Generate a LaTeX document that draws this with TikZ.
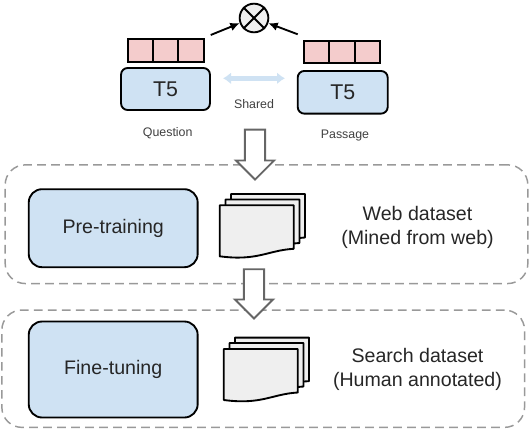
\documentclass[tikz,border=0pt]{standalone}
\usepackage{fontspec}
\setmainfont{Liberation Sans}
\usepackage{xcolor}
\usetikzlibrary{arrows.meta,positioning,shapes.arrows}
\definecolor{boxblue}{HTML}{CFE2F3}
\definecolor{cellred}{HTML}{F4CCCC}
\definecolor{pagegray}{HTML}{EFEFEF}
\tikzset{
  enc/.style={draw, rounded corners=5pt, fill=boxblue, line width=1.4pt, font=\fontsize{16}{18}\selectfont, text=black!85},
  stage/.style={draw, rounded corners=10pt, fill=boxblue, line width=1.4pt, minimum width=126.7pt, font=\fontsize{14.7}{17}\selectfont, text=black!85},
  cell/.style={draw, fill=cellred, line width=1.4pt, minimum width=19pt, minimum height=17pt, inner sep=0pt, outer sep=0pt},
  lbl/.style={font=\fontsize{9.3}{11}\selectfont, text=black!75},
  data/.style={align=center, font=\fontsize{14.7}{18}\selectfont, text=black!85},
  group/.style={draw=black!40, rounded corners=15pt, dash pattern=on 6.5pt off 4pt, line width=1.1pt, minimum width=392pt},
  flow/.style={single arrow, draw=black!60, fill=white, line width=1.4pt, shape border rotate=270, inner sep=6.9pt, minimum width=27pt, single arrow head extend=6.7pt, single arrow head indent=0pt},
  arr/.style={-{Latex[length=7pt,width=6.5pt]}, line width=1.4pt},
  docpage/.pic={
    \draw[fill=pagegray, line width=1.4pt, line join=round] (0,0) -- (74,0) -- (74,43.5) .. controls (48,45) and (38,56) .. (0,51) -- cycle;
  },
}
\begin{document}
\begin{tikzpicture}[x=0.75pt,y=-0.75pt]
\useasboundingbox (0,0) rectangle (530,428);
% dashed groups first
\node[group, minimum height=89pt] (webgroup) at (266.5,224.2) {};
\node[group, minimum height=88pt] (searchgroup) at (263.2,368.7) {};
% encoders
\node[enc, minimum width=66.7pt, minimum height=31.5pt] (qenc) at (165.5,89) {T5};
\node[enc, minimum width=67.5pt, minimum height=32pt] (penc) at (342.7,92.3) {T5};
\node[cell] (qcell2) at (165.7,50.3) {};
\node[cell, left=0pt of qcell2] (qcell1) {};
\node[cell, right=0pt of qcell2] (qcell3) {};
\node[cell] (pcell2) at (342,52) {};
\node[cell, left=0pt of pcell2] (pcell1) {};
\node[cell, right=0pt of pcell2] (pcell3) {};
\node[draw, circle, fill=pagegray, line width=1.4pt, minimum size=21.5pt, inner sep=0pt] (merge) at (254,18) {};
\draw[line width=1.4pt] (merge.45) -- (merge.225);
\draw[line width=1.4pt] (merge.135) -- (merge.315);
\coordinate (qout) at (210.7,35);
\coordinate (pout) at (297.7,34.3);
\coordinate (sharel) at (223,78.3);
\coordinate (sharer) at (285,78.3);
\draw[arr] (qout) -- (merge.200);
\draw[arr] (pout) -- (merge.340);
\draw[{Latex[length=6pt,width=9pt]}-{Latex[length=6pt,width=9pt]}, boxblue, line width=3.6pt] (sharel) -- (sharer);
\node[lbl] (shared) at (254,103.7) {Shared};
\node[lbl] (question) at (167.7,132.7) {Question};
\node[lbl] (passage) at (345,135.7) {Passage};
% stages
\node[stage, minimum height=58.5pt] (pretrain) at (113.2,228.2) {Pre-training};
\node[stage, minimum height=72pt] (finetune) at (113.2,369.5) {Fine-tuning};
\pic at (231,194) {docpage};
\pic at (225.5,199.5) {docpage};
\pic at (219.7,205.3) {docpage};
\pic at (235,337.6) {docpage};
\pic at (229.5,343) {docpage};
\pic at (223.8,349) {docpage};
\node[data] (webdata) at (417.5,227) {Web dataset\\(Mined from web)};
\node[data] (searchdata) at (417.5,369.5) {Search dataset\\(Human annotated)};
% block arrows
\node[flow, minimum height=37.5pt] (flowa) at (255,149.5) {};
\node[flow, minimum height=37pt] (flowb) at (254,288.8) {};
\end{tikzpicture}
\end{document}
